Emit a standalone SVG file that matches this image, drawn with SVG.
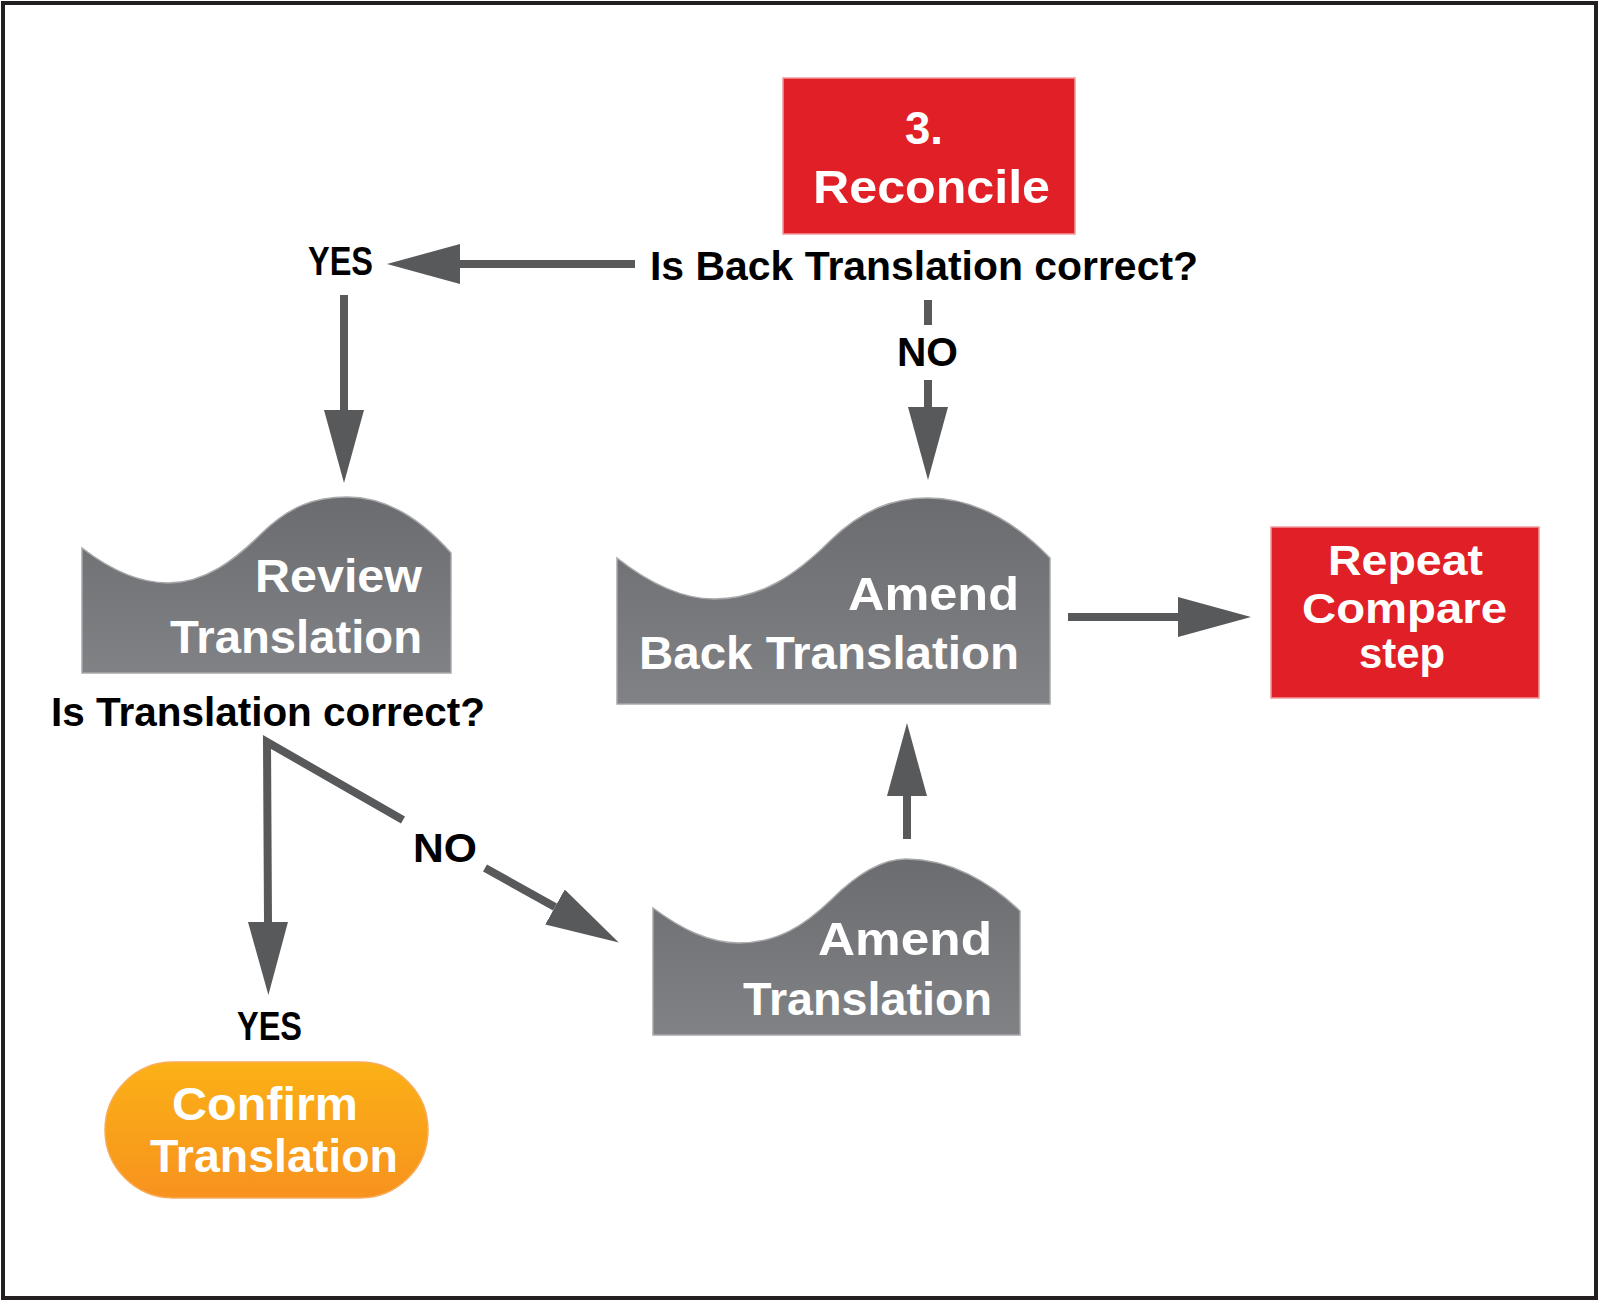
<svg xmlns="http://www.w3.org/2000/svg" width="1599" height="1301" viewBox="0 0 1599 1301">
<defs>
<linearGradient id="gray" x1="0" y1="0" x2="0" y2="1"><stop offset="0" stop-color="#6b6c6f"/><stop offset="1" stop-color="#818285"/></linearGradient>
<linearGradient id="orange" x1="0" y1="0" x2="0" y2="1"><stop offset="0" stop-color="#fbb116"/><stop offset="1" stop-color="#f7921e"/></linearGradient>
<marker id="ah" markerUnits="userSpaceOnUse" markerWidth="74" markerHeight="40" refX="0" refY="20" orient="auto"><path d="M0,0 L73,20 L0,40 Z" fill="#58595b"/></marker>
<style>
.lbl{font-family:"Liberation Sans",Arial,sans-serif;font-weight:bold;font-size:40px;fill:#000}
.wt{font-family:"Liberation Sans",Arial,sans-serif;font-weight:bold;font-size:46px;fill:#fff}
.wt2{font-family:"Liberation Sans",Arial,sans-serif;font-weight:bold;font-size:42px;fill:#fff}
.wave{fill:url(#gray);stroke:#a7a8aa;stroke-width:1.5}
.red{fill:#e01f26;stroke:#f09a9c;stroke-width:1.5}
.con{fill:none;stroke:#58595b;stroke-width:8;stroke-linejoin:miter}
</style>
</defs>
<rect x="3" y="3" width="1593" height="1295" fill="#fff" stroke="#231f20" stroke-width="4"/>
<g id="connectors">
<line class="con" x1="635" y1="264" x2="460" y2="264" marker-end="url(#ah)"/>
<line class="con" x1="344" y1="295" x2="344" y2="410" marker-end="url(#ah)"/>
<line class="con" x1="928" y1="300" x2="928" y2="325"/>
<line class="con" x1="928" y1="380" x2="928" y2="407" marker-end="url(#ah)"/>
<line class="con" x1="907" y1="839" x2="907" y2="796" marker-end="url(#ah)"/>
<line class="con" x1="1068" y1="617" x2="1178" y2="617" marker-end="url(#ah)"/>
<polyline class="con" points="403,820 267,742 268,922" marker-end="url(#ah)"/>
<line class="con" x1="485" y1="868" x2="555" y2="907" marker-end="url(#ah)"/>
<text class="lbl" x="308" y="275" textLength="65" lengthAdjust="spacingAndGlyphs">YES</text>
<text class="lbl" x="650" y="280" textLength="548" lengthAdjust="spacingAndGlyphs">Is Back Translation correct?</text>
<text class="lbl" x="897" y="366" textLength="61" lengthAdjust="spacingAndGlyphs">NO</text>
<text class="lbl" x="51" y="726" textLength="434" lengthAdjust="spacingAndGlyphs">Is Translation correct?</text>
<text class="lbl" x="413" y="862" textLength="64" lengthAdjust="spacingAndGlyphs">NO</text>
<text class="lbl" x="237" y="1040" textLength="65" lengthAdjust="spacingAndGlyphs">YES</text>
</g>
<g id="reconcile">
<rect class="red" x="783" y="78" width="292" height="156"/>
<text class="wt" x="905" y="144" textLength="38" lengthAdjust="spacingAndGlyphs">3.</text>
<text class="wt" x="813" y="203" textLength="237" lengthAdjust="spacingAndGlyphs">Reconcile</text>
</g>
<g id="review">
<path class="wave" d="M82,548 C108,568 138,583 168,583 C205,583 235,560 262,533 C290,506 315,497 347,497 C385,497 420,518 451,553 L451,673 L82,673 Z"/>
<text class="wt" x="255" y="592" textLength="167" lengthAdjust="spacingAndGlyphs">Review</text>
<text class="wt" x="170" y="653" textLength="252" lengthAdjust="spacingAndGlyphs">Translation</text>
</g>
<g id="amend-back">
<path class="wave" d="M617,558 C645,580 680,599 714,599 C760,599 795,576 831,540 C862,510 893,498 928,498 C975,498 1015,522 1050,558 L1050,704 L617,704 Z"/>
<text class="wt" x="848" y="610" textLength="171" lengthAdjust="spacingAndGlyphs">Amend</text>
<text class="wt" x="639" y="669" textLength="380" lengthAdjust="spacingAndGlyphs">Back Translation</text>
</g>
<g id="amend-trans">
<path class="wave" d="M653,908 C680,928 708,943 739,943 C778,943 805,925 831,900 C855,876 880,859 906,859 C950,859 990,882 1020,911 L1020,1035 L653,1035 Z"/>
<text class="wt" x="818" y="955" textLength="174" lengthAdjust="spacingAndGlyphs">Amend</text>
<text class="wt" x="743" y="1015" textLength="249" lengthAdjust="spacingAndGlyphs">Translation</text>
</g>
<g id="repeat">
<rect class="red" x="1271" y="527" width="268" height="171"/>
<text class="wt2" x="1328" y="575" textLength="155" lengthAdjust="spacingAndGlyphs">Repeat</text>
<text class="wt2" x="1302" y="623" textLength="205" lengthAdjust="spacingAndGlyphs">Compare</text>
<text class="wt2" x="1359" y="668" textLength="86" lengthAdjust="spacingAndGlyphs">step</text>
</g>
<g id="confirm">
<rect x="105" y="1062" width="323" height="136" rx="68" ry="68" fill="url(#orange)" stroke="#f9ab5a" stroke-width="1.5"/>
<text class="wt" x="172" y="1120" textLength="186" lengthAdjust="spacingAndGlyphs">Confirm</text>
<text class="wt" x="150" y="1172" textLength="248" lengthAdjust="spacingAndGlyphs">Translation</text>
</g>
</svg>
